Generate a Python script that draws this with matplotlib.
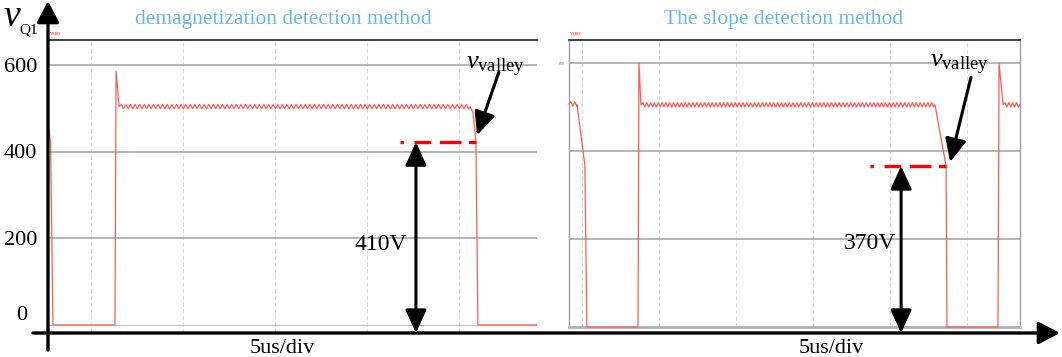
import numpy as np
import matplotlib
matplotlib.use('Agg')
import matplotlib.pyplot as plt

plt.rcParams['font.family'] = 'Liberation Serif'
plt.rcParams['mathtext.fontset'] = 'custom'
plt.rcParams['mathtext.rm'] = 'Liberation Serif'
plt.rcParams['mathtext.it'] = 'Liberation Serif:italic'

# left scope shot: demagnetization detection (time in us, voltage in V)
left_t = [-2.34, -2.2, -2.07, 1.30, 1.36, 1.52, 20.60, 20.76, 20.92, 21.03, 24.24]
left_v = [468, 420, 0, 0, 586, 504, 504, 490, 422, 0, 0]
left_plateaus = [5]
left_valley = 422
left_valley_t = [16.79, 20.92]
left_label = '410V'

# right scope shot: slope detection
right_t = [-0.84, -0.32, 0.19, 0.32, 3.64, 3.70, 3.83, 22.92, 23.64, 23.70, 27.01, 27.08, 27.34, 28.44]
right_v = [507, 505, 368, 0, 0, 600, 505, 505, 366, 0, 0, 600, 505, 505]
right_plateaus = [0, 6, 12]
right_valley = 366
right_valley_t = [18.70, 23.64]
right_label = '370V'

# ringing on the plateau
ripple_period = 0.25
ripple_amp = 5

yticks = [0, 200, 400, 600]
time_grid = [0, 5, 10, 15, 20, 25]

W, H = 1062, 357
red = '#ff5a5a'
title_blue = '#66b9f5'


def with_ripple(t_pts, v_pts, plateaus):
    t_out, v_out = [], []
    for i in range(len(t_pts)):
        t_out.append(t_pts[i])
        v_out.append(v_pts[i])
        if i in plateaus:
            tt = np.arange(t_pts[i] + ripple_period / 2, t_pts[i + 1], ripple_period / 2)
            vv = v_pts[i] + ripple_amp * np.resize([1, -1], len(tt))
            t_out.extend(tt)
            v_out.extend(vv)
    return t_out, v_out


def box(x0, y0, x1, y1):
    return [x0 / W, (H - y1) / H, (x1 - x0) / W, (y1 - y0) / H]


fig = plt.figure(figsize=(W / 100, H / 100), dpi=100)

ax1 = fig.add_axes(box(48, 40, 537, 333))
ax2 = fig.add_axes(box(569, 40, 1020, 327))
ax1.set_xlim(-2.34, 24.24)
ax1.set_ylim(-18.5, 657.7)
ax2.set_xlim(-0.84, 28.44)
ax2.set_ylim(0, 652.3)

for ax in (ax1, ax2):
    ax.set_xticks([])
    ax.set_yticks([])
    for g in time_grid:
        if ax.get_xlim()[0] < g < ax.get_xlim()[1]:
            ax.axvline(g, color='#dcdcdc', lw=0.8, ls=(0, (4, 2)), zorder=1)
    for v in yticks[1:]:
        ax.axhline(v, color='#a0a0a0', lw=1.1, zorder=1)
    ax.spines['top'].set_color('#333333')
    ax.spines['top'].set_linewidth(1.3)

ax1.axhline(0, color='#c0c0c0', lw=0.8, zorder=1)
for s in ('left', 'right', 'bottom'):
    ax1.spines[s].set_visible(False)
for s in ('left', 'right'):
    ax2.spines[s].set_color('#a0a0a0')
    ax2.spines[s].set_linewidth(1.0)
ax2.spines['bottom'].set_color('#b0b0b0')
ax2.spines['bottom'].set_linewidth(2.0)

# traces
t, v = with_ripple(left_t, left_v, left_plateaus)
ax1.plot(t, v, color=red, lw=0.9, zorder=3)
t, v = with_ripple(right_t, right_v, right_plateaus)
ax2.plot(t, v, color=red, lw=0.9, zorder=3, clip_on=False)

# valley markers
dash = (0, (1, 3.2, 5, 2.6, 6.5, 2.2, 5, 2.4))
ax1.plot(left_valley_t, [left_valley] * 2, color='#ff0000', lw=2.4, ls=dash, zorder=4)
ax2.plot(right_valley_t, [right_valley] * 2, color='#ff0000', lw=2.4, ls=dash, zorder=4)

arrow2 = dict(arrowstyle='<|-|>,head_length=0.7,head_width=0.32', color='k', lw=2.2,
              shrinkA=0, shrinkB=0, mutation_scale=20)
arrow1 = dict(arrowstyle='-|>,head_length=0.7,head_width=0.32', color='k', lw=2.2,
              shrinkA=0, shrinkB=0, mutation_scale=20)

ax1.annotate('', xy=(17.66, left_valley), xytext=(17.66, -18.5), arrowprops=arrow2,
             annotation_clip=False)
ax2.annotate('', xy=(20.72, right_valley), xytext=(20.72, -13.6), arrowprops=arrow2,
             annotation_clip=False)
ax1.text(17.2, 185, left_label, fontsize=17, ha='right', va='center')
ax2.text(20.4, 190, right_label, fontsize=17, ha='right', va='center')

ax1.annotate('', xy=(20.98, 438), xytext=(22.17, 584), arrowprops=arrow1, annotation_clip=False)
ax2.annotate('', xy=(23.90, 375), xytext=(25.26, 568), arrowprops=arrow1, annotation_clip=False)
ax1.text(20.4, 590, r'$v_{\mathrm{valley}}$', fontsize=19, ha='left', va='baseline')
ax2.text(22.6, 590, r'$v_{\mathrm{valley}}$', fontsize=19, ha='left', va='baseline')

# y tick labels on the left panel
for val in yticks:
    dx, dy = (-8, -1.5) if val else (-15, 7)
    ax1.annotate(str(val), xy=(0, val), xycoords=ax1.get_yaxis_transform(),
                 xytext=(dx, dy), textcoords='offset points',
                 ha='right', va='center', fontsize=16)

# overlay in pixel units for the big axes and captions
ov = fig.add_axes([0, 0, 1, 1])
ov.set_xlim(0, W)
ov.set_ylim(H, 0)
ov.axis('off')
ov.patch.set_alpha(0)

big = dict(arrowstyle='-|>,head_length=0.65,head_width=0.34', color='k', lw=2.4,
           shrinkA=0, shrinkB=0, mutation_scale=20)
ov.annotate('', xy=(48, 1), xytext=(48, 350), arrowprops=big)
ov.annotate('', xy=(1060, 333), xytext=(33, 333), arrowprops=big)

ov.text(3, 26, 'v', fontsize=27, style='italic', ha='left', va='baseline')
ov.text(19, 33, 'Q1', fontsize=11, ha='left', va='baseline')
ov.text(283, 24, 'demagnetization detection method', fontsize=15.5, color=title_blue,
        ha='center', va='baseline')
ov.text(784, 24, 'The slope detection method', fontsize=15.5, color=title_blue,
        ha='center', va='baseline')
ov.text(282, 353, '5us/div', fontsize=16, ha='center', va='baseline')
ov.text(831, 353, '5us/div', fontsize=16, ha='center', va='baseline')

ov.text(50, 35, 'VM0S', fontsize=3.2, color='red', ha='left', va='baseline')
ov.text(570, 35, 'VM0S', fontsize=3.2, color='red', ha='left', va='baseline')
ov.text(562, 64, '600', fontsize=3, color='#777777', ha='center', va='center')

fig.savefig('out.png', dpi=100)
